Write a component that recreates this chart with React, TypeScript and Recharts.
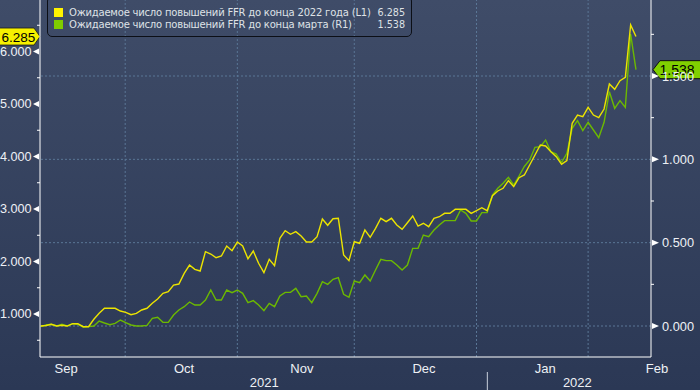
import { Line, LineChart, ReferenceLine, XAxis, YAxis } from 'recharts'

// Ожидаемое число повышений ставки FFR, по рабочим дням (9 сен 2021 – фев 2022)
const hikesBy2022End = [
  0.771, 0.781, 0.804, 0.771, 0.785, 0.771, 0.815, 0.815, 0.758, 0.758,
  0.899, 1.013, 1.109, 1.109, 1.109, 1.057, 1.032, 0.987, 1.013, 1.076,
  1.109, 1.204, 1.286, 1.394, 1.425, 1.552, 1.571, 1.775, 1.933, 1.851,
  1.819, 2.187, 2.143, 2.072, 2.105, 2.295, 2.206, 2.371, 2.295, 2.053,
  2.2, 1.966, 1.787, 2.042, 1.92, 2.442, 2.587, 2.518, 2.568, 2.486,
  2.371, 2.371, 2.472, 2.81, 2.69, 2.815, 2.823, 2.124, 2.015, 2.377,
  2.347, 2.6, 2.461, 2.632, 2.823, 2.758, 2.823, 2.695, 2.613, 2.739,
  2.867, 2.676, 2.728, 2.663, 2.823, 2.853, 2.918, 2.918, 2.994, 2.994,
  2.994, 2.918, 2.968, 3.025, 2.968, 3.253, 3.343, 3.394, 3.539, 3.425,
  3.596, 3.648, 3.838, 4.029, 4.219, 4.2, 4.091, 3.996, 3.851, 3.92,
  4.632, 4.79, 4.758, 4.937, 4.79, 4.739, 4.905, 5.381, 5.28, 5.444,
  5.509, 6.505, 6.285,
]

const hikesByMarch = [
  -0.004, 0.006, 0.01, 0, 0.01, 0, 0.014, 0.01, -0.006, -0.004,
  0, 0.03, 0.018, 0.008, 0.016, 0.036, 0.02, 0.006, 0, 0,
  0.004, 0.046, 0.052, 0.022, 0.022, 0.066, 0.096, 0.116, 0.144, 0.126,
  0.126, 0.156, 0.216, 0.156, 0.156, 0.216, 0.2, 0.216, 0.196, 0.14,
  0.152, 0.126, 0.092, 0.136, 0.116, 0.18, 0.202, 0.202, 0.226, 0.176,
  0.18, 0.14, 0.196, 0.266, 0.25, 0.28, 0.29, 0.19, 0.172, 0.27,
  0.26, 0.306, 0.27, 0.336, 0.4, 0.392, 0.392, 0.366, 0.336, 0.366,
  0.466, 0.466, 0.546, 0.536, 0.576, 0.606, 0.632, 0.632, 0.632, 0.696,
  0.676, 0.63, 0.63, 0.68, 0.68, 0.786, 0.826, 0.856, 0.892, 0.846,
  0.9, 0.957, 0.996, 1.072, 1.076, 1.116, 1.046, 1.032, 0.98, 1.036,
  1.186, 1.232, 1.172, 1.222, 1.176, 1.13, 1.222, 1.406, 1.306, 1.352,
  1.312, 1.752, 1.538,
]

const seriesNames = [
  'Ожидаемое число повышений FFR до конца 2022 года (L1)',
  'Ожидаемое число повышений FFR до конца марта (R1)',
]

// x = номер рабочего дня от начала ряда
const xDomain = [-0.13, 114.83]
const monthStarts = [15.9, 37, 59, 82, 103]
const monthLabels = ['Sep', 'Oct', 'Nov', 'Dec', 'Jan', 'Feb']
const monthLabelPos = [4.8, 26.4, 48, 70.4, 92.6, 113.1]
const yearLabels = ['2021', '2022']
const yearLabelPos = [41.1, 98.5]
const yearBreaks = [82]

const leftDomain = [0.181, 6.981]
const leftTicks = [0.5, 1, 1.5, 2, 2.5, 3, 3.5, 4, 4.5, 5, 5.5, 6, 6.5]
const rightDomain = [-0.186, 1.956]
const rightTicks = [0, 0.25, 0.5, 0.75, 1, 1.25, 1.5, 1.75]
const rightGrid = [0, 0.5, 1, 1.5]

const YELLOW = '#ece400'
const GREEN = '#6cb900'
const FONT = "'Liberation Sans', Arial, sans-serif"
const TICK_COLOR = '#eef1f5'
const GRID = '#5a7696'

const data = hikesBy2022End.map((v, i) => ({ day: i, y2022: v, march: hikesByMarch[i] }))
const last2022 = hikesBy2022End[hikesBy2022End.length - 1]
const lastMarch = hikesByMarch[hikesByMarch.length - 1]

function LeftTick({ x, y, payload }: any) {
  const v = payload.value as number
  if (!Number.isInteger(v)) return <line x1={x} x2={x - 3} y1={y} y2={y} stroke="#fff" />
  return (
    <g>
      <polygon points={`${x - 1},${y - 3} ${x - 1},${y + 3} ${x - 7},${y}`} fill="#fff" />
      <text x={x - 8.5} y={y} textAnchor="end" dominantBaseline="central" fill={TICK_COLOR} fontSize={12.6} fontFamily={FONT}>
        {v.toFixed(3)}
      </text>
    </g>
  )
}

function RightTick({ x, y, payload }: any) {
  const v = payload.value as number
  if (Math.round(v * 4) % 2 !== 0) return <line x1={x} x2={x + 3} y1={y} y2={y} stroke="#fff" />
  return (
    <g>
      <polygon points={`${x + 1},${y - 3} ${x + 1},${y + 3} ${x + 8},${y}`} fill="#fff" />
      <text x={x + 11} y={y} textAnchor="start" dominantBaseline="central" fill={TICK_COLOR} fontSize={12.8} fontFamily={FONT}>
        {v.toFixed(3)}
      </text>
    </g>
  )
}

function MonthTick({ x, y, payload }: any) {
  const i = monthLabelPos.indexOf(payload.value)
  return (
    <text x={x} y={y + 7} textAnchor="middle" dominantBaseline="central" fill={TICK_COLOR} fontSize={13} fontFamily={FONT}>
      {monthLabels[i]}
    </text>
  )
}

function YearTick({ x, y, payload }: any) {
  if (yearBreaks.includes(payload.value)) {
    return <line x1={x} x2={x} y1={y - 3} y2={y + 16} stroke="#c9d1dc" />
  }
  const i = yearLabelPos.indexOf(payload.value)
  return (
    <text x={x} y={y + 7.5} textAnchor="middle" dominantBaseline="central" fill={TICK_COLOR} fontSize={13} fontFamily={FONT}>
      {yearLabels[i]}
    </text>
  )
}

function LeftFlag({ viewBox }: any) {
  const tip = viewBox.x
  const y = viewBox.y
  return (
    <g>
      <polygon
        points={`-1,${y - 8.5} ${tip - 6},${y - 8.5} ${tip},${y} ${tip - 6},${y + 8.5} -1,${y + 8.5}`}
        fill="#f6f000"
        stroke="#1a1a1a"
        strokeWidth={0.8}
      />
      <text x={tip - 21.5} y={y + 0.5} textAnchor="middle" dominantBaseline="central" fill="#000" fontSize={13.5} fontFamily={FONT}>
        {last2022.toFixed(3)}
      </text>
    </g>
  )
}

function RightFlag({ viewBox }: any) {
  const tip = viewBox.x + viewBox.width + 2
  const y = viewBox.y
  return (
    <g>
      <polygon
        points={`${tip},${y} ${tip + 7},${y - 9} 701,${y - 9} 701,${y + 9} ${tip + 7},${y + 9}`}
        fill="#80d000"
        stroke="#111"
        strokeWidth={1}
      />
      <text x={tip + 24} y={y + 0.5} textAnchor="middle" dominantBaseline="central" fill="#000" fontSize={14} fontFamily={FONT}>
        {lastMarch.toFixed(3)}
      </text>
    </g>
  )
}

function Legend() {
  const rows = [
    { name: seriesNames[0], value: last2022, color: '#fff200' },
    { name: seriesNames[1], value: lastMarch, color: '#7fcc00' },
  ]
  return (
    <div
      style={{
        position: 'absolute',
        left: 47,
        top: -4,
        width: 365,
        height: 41,
        boxSizing: 'border-box',
        border: '1px solid #0c0f16',
        borderRadius: 5,
        fontFamily: "'DejaVu Sans', Verdana, sans-serif",
        fontSize: 10,
        color: '#dfe2e6',
      }}
    >
      {rows.map((r, i) => (
        <div key={r.name}>
          <div style={{ position: 'absolute', left: 6, top: 11 + i * 12, width: 9, height: 9, background: r.color }} />
          <div
            style={{
              position: 'absolute',
              left: 21,
              top: 10 + i * 12,
              lineHeight: '12px',
              whiteSpace: 'pre',
              letterSpacing: -0.2,
            }}
          >
            {r.name}
          </div>
          <div
            style={{
              position: 'absolute',
              left: 300,
              top: 10 + i * 12,
              width: 57,
              lineHeight: '12px',
              fontSize: 9.6,
              textAlign: 'right',
            }}
          >
            {r.value.toFixed(3)}
          </div>
        </div>
      ))}
    </div>
  )
}

export default function App() {
  return (
    <div
      style={{
        position: 'absolute',
        left: 0,
        top: 0,
        width: 700,
        height: 390,
        overflow: 'hidden',
        background: 'linear-gradient(180deg, #3f4c68 0%, #2b3855 100%)',
      }}
    >
      <LineChart width={700} height={390} data={data} margin={{ top: 0, right: 0, bottom: 0, left: 0 }}>
        <XAxis
          xAxisId="main"
          dataKey="day"
          type="number"
          domain={xDomain}
          allowDataOverflow
          ticks={monthStarts}
          interval={0}
          tick={false}
          tickSize={4}
          height={4}
          stroke="#fff"
        />
        <XAxis
          xAxisId="months"
          type="number"
          domain={xDomain}
          allowDataOverflow
          ticks={monthLabelPos}
          interval={0}
          tick={<MonthTick />}
          tickLine={false}
          axisLine={false}
          tickSize={0}
          tickMargin={0}
          height={14}
        />
        <XAxis
          xAxisId="years"
          type="number"
          domain={xDomain}
          allowDataOverflow
          ticks={[...yearLabelPos, ...yearBreaks]}
          interval={0}
          tick={<YearTick />}
          tickLine={false}
          axisLine={false}
          tickSize={0}
          tickMargin={0}
          height={15}
        />
        <YAxis
          yAxisId="left"
          orientation="left"
          width={40}
          domain={leftDomain}
          allowDataOverflow
          ticks={leftTicks}
          interval={0}
          tick={<LeftTick />}
          tickLine={false}
          tickSize={0}
          tickMargin={0}
          stroke="#fff"
        />
        <YAxis
          yAxisId="right"
          orientation="right"
          width={49}
          domain={rightDomain}
          allowDataOverflow
          ticks={rightTicks}
          interval={0}
          tick={<RightTick />}
          tickLine={false}
          tickSize={0}
          tickMargin={0}
          stroke="#fff"
        />
        {rightGrid.map((v) => (
          <ReferenceLine key={`h${v}`} xAxisId="main" yAxisId="right" y={v} stroke={GRID} strokeDasharray="2 2" />
        ))}
        {monthStarts.map((v) => (
          <ReferenceLine key={`v${v}`} xAxisId="main" yAxisId="left" x={v} stroke={GRID} strokeDasharray="2 2" />
        ))}
        <Line
          xAxisId="main"
          yAxisId="right"
          dataKey="march"
          stroke={GREEN}
          strokeWidth={1.4}
          dot={false}
          isAnimationActive={false}
        />
        <Line
          xAxisId="main"
          yAxisId="left"
          dataKey="y2022"
          stroke={YELLOW}
          strokeWidth={1.4}
          dot={false}
          isAnimationActive={false}
        />
        <ReferenceLine xAxisId="main" yAxisId="left" y={last2022} stroke="none" label={<LeftFlag />} />
        <ReferenceLine xAxisId="main" yAxisId="right" y={lastMarch} stroke="none" label={<RightFlag />} />
      </LineChart>
      <Legend />
    </div>
  )
}
